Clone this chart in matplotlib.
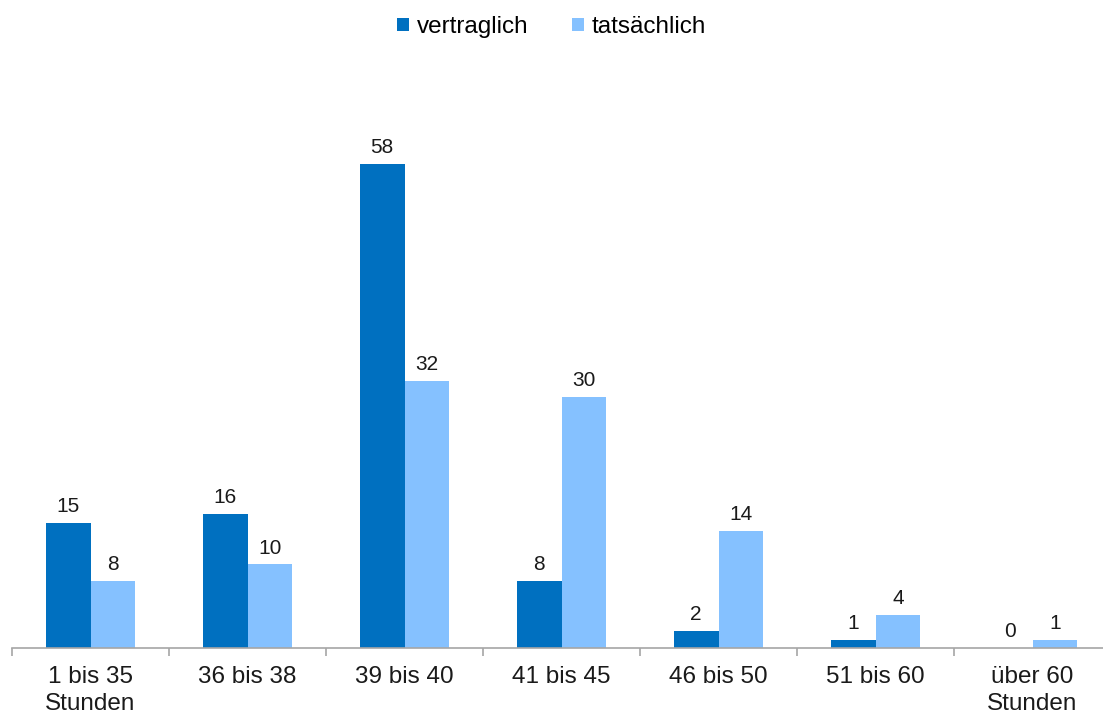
import numpy as np
import matplotlib.pyplot as plt

plt.rcParams['font.family'] = ['Liberation Sans', 'DejaVu Sans']

categories = ['1 bis 35\nStunden', '36 bis 38', '39 bis 40', '41 bis 45',
              '46 bis 50', '51 bis 60', 'über 60\nStunden']
vertraglich = [15, 16, 58, 8, 2, 1, 0]
tatsaechlich = [8, 10, 32, 30, 14, 4, 1]

dark = '#0070C0'
light = '#85C1FF'

fig = plt.figure(figsize=(11.03, 7.14), dpi=100)
ax = fig.add_axes([0.0109, 0.0924, 0.9964, 0.819])

x = np.arange(len(categories))
w = 0.285
b1 = ax.bar(x - w / 2, vertraglich, w, color=dark, label='vertraglich')
b2 = ax.bar(x + w / 2, tatsaechlich, w, color=light, label='tatsächlich')

# value labels above bars
for bars, vals in [(b1, vertraglich), (b2, tatsaechlich)]:
    for r, v in zip(bars, vals):
        ax.annotate(str(v), (r.get_x() + r.get_width() / 2, v),
                    xytext=(0, 5), textcoords='offset points',
                    ha='center', va='bottom', fontsize=15, color='#1a1a1a')

ax.set_xlim(-0.5, len(categories) - 0.5)
ax.set_ylim(0, 70)
ax.set_yticks([])
for s in ['top', 'right', 'left']:
    ax.spines[s].set_visible(False)
ax.spines['bottom'].set_color('#A6A6A6')
ax.spines['bottom'].set_linewidth(1.2)

ax.set_xticks(np.arange(len(categories) + 1) - 0.5, minor=True)
ax.set_xticks(x)
ax.set_xticklabels(categories, fontsize=17.5, color='#1a1a1a', linespacing=1.3)
ax.tick_params(axis='x', which='major', length=0, pad=13)
ax.tick_params(axis='x', which='minor', length=6, color='#A6A6A6', width=1.2)

fig.legend(loc='upper center', bbox_to_anchor=(0.5, 1.008), ncol=2, frameon=False,
           fontsize=17.5, handlelength=0.5, handleheight=0.5, handletextpad=0.3,
           columnspacing=1.8)

fig.savefig('out.png', dpi=100)
